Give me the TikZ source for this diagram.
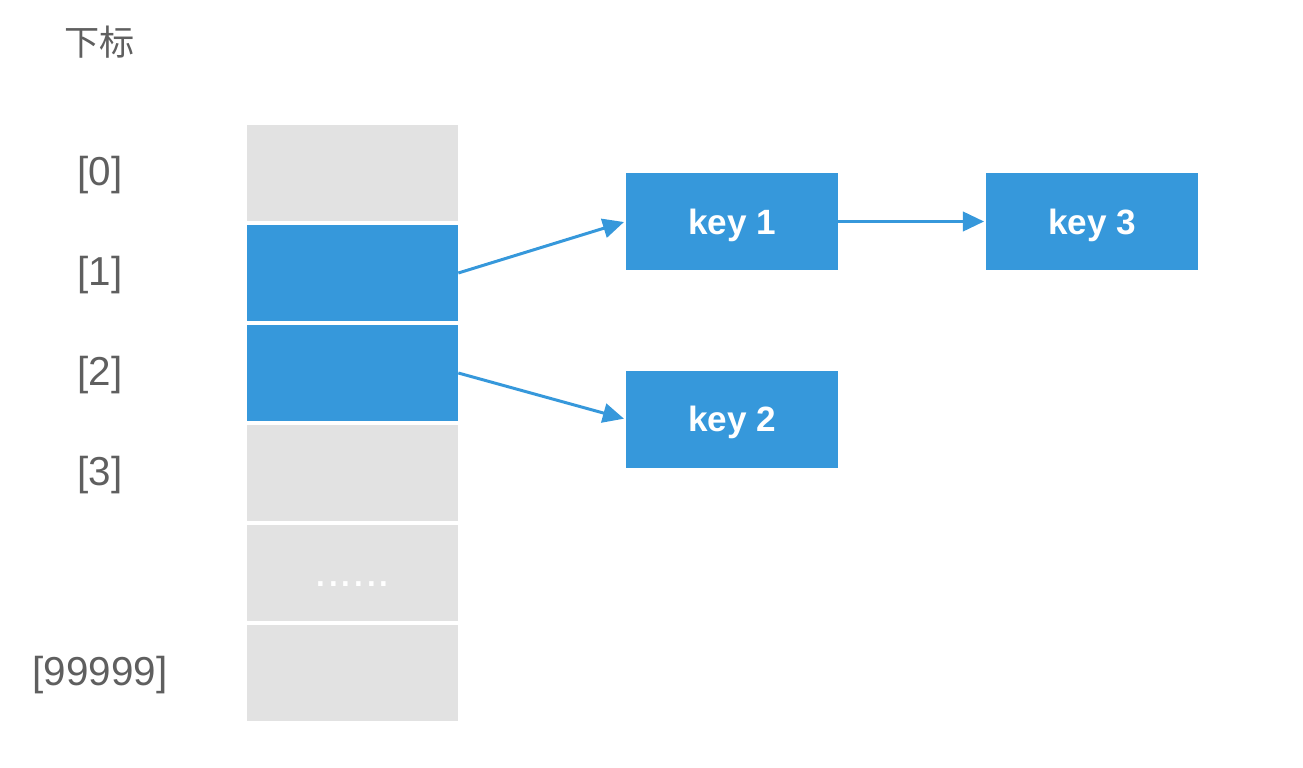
\documentclass[tikz,border=0pt]{standalone}
\usepackage{fontspec}
\setmainfont{Liberation Sans}
\newfontfamily\cjkfont{Noto Sans CJK SC}
\usepackage{tikz}
\usepackage{xcolor}
\usetikzlibrary{arrows.meta, positioning}
\definecolor{slotgray}{RGB}{226, 226, 226}
\definecolor{keyblue}{RGB}{54, 152, 219}
\definecolor{labelgray}{RGB}{95, 95, 95}
\tikzset{
  slot/.style={fill=slotgray, draw=none, minimum width=4.22cm, minimum height=1.92cm,
               inner sep=0pt},
  keybox/.style={fill=keyblue, draw=none, minimum width=4.24cm, minimum height=1.94cm,
                 text depth=0pt, text=white, font=\bfseries\fontsize{20}{24}\selectfont},
  idx/.style={text=labelgray, font=\fontsize{23}{27}\selectfont},
  link/.style={-{Triangle[length=12pt, width=11pt]}, keyblue, line width=1.7pt, shorten >=1pt}
}
\begin{document}
\begin{tikzpicture}[x=0.02cm, y=-0.02cm]
  \useasboundingbox (0,0) rectangle (1303,768);
  % Header
  \node[idx, font=\cjkfont\fontsize{20}{24}\selectfont] (head) at (100,42) {下标};
  % Array slots
  \foreach \i in {0,...,5} {
    \node[slot] (c\i) at (352.5, 173+100*\i) {};
  }
  \fill[keyblue] (c1.south west) rectangle (c1.north east);
  \fill[keyblue] (c2.south west) rectangle (c2.north east);
  \node[text=white, font=\fontsize{26}{30}\selectfont] (dots) at (352.5, 584) {......};
  % Indices
  \foreach \i/\v in {0/[0], 1/[1], 2/[2], 3/[3], 5/[99999]} {
    \node[idx] (i\i) at (100, 175+100*\i) {\v};
  }
  % Keys
  \node[keybox] (k1) at (732, 221.5) {key 1};
  \node[keybox, right=2.95cm of k1] (k3) {key 3};
  \node[keybox, below=2.0cm of k1] (k2) {key 2};
  % Links
  \draw[link] (c1.east) -- (k1.west);
  \draw[link] (c2.east) -- (k2.west);
  \draw[link] (k1.east) -- (k3.west);
\end{tikzpicture}
\end{document}
